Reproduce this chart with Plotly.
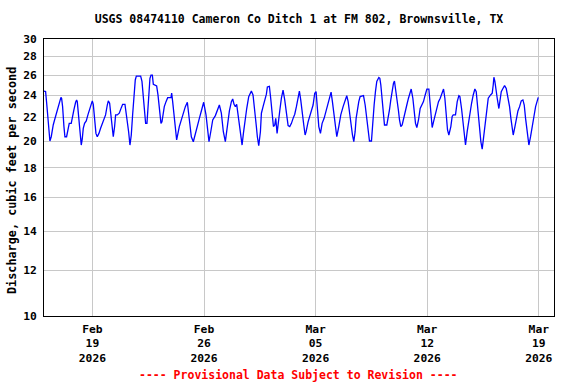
import pandas as pd
import plotly.graph_objects as go

title_text = "USGS 08474110 Cameron Co Ditch 1 at FM 802, Brownsville, TX"
y_title = "Discharge, cubic feet per second"
footer_text = "---- Provisional Data Subject to Revision ----"

start_time = "2026-02-16 00:00"
x_range = ["2026-02-15 23:06", "2026-03-19 22:54"]

# hours after start_time
hours = [
    -0.9, 1.5, 3.0, 5.0, 7.0, 8.0, 10.0, 11.5, 13.0, 15.0, 17.0, 19.0, 21.5, 23.0,
    24.6, 25.6, 27.1, 29.1, 30.6, 33.1, 35.1, 37.1, 40.1, 42.1, 44.1, 46.7,
    48.2, 49.2, 51.2, 53.2, 55.2, 56.7, 58.2, 60.2, 62.7, 65.2, 67.8, 69.8,
    71.8, 73.3, 75.3, 77.3, 79.3, 81.8, 84.3, 86.8, 89.3, 91.8, 94.4,
    95.9, 97.9, 99.9, 101.9, 103.4, 105.4, 106.9, 109.4, 112.4, 115.5, 117.5,
    121.0, 122.5, 124.5, 126.5, 128.5, 130.5, 132.5, 134.5, 136.5, 138.1,
    144.6, 146.6, 148.6, 150.6, 152.1, 154.1, 155.6, 156.6, 158.6, 160.2,
    162.2, 163.7, 168.7, 170.7, 173.7, 175.2, 176.7, 180.2, 182.8, 185.3,
    190.3, 191.3, 192.8, 195.3, 198.8, 202.8, 207.9, 211.9, 214.9, 217.9,
    220.9, 223.9, 228.0, 233.0, 237.0, 239.5, 243.0, 245.5, 247.5, 250.6,
    253.1, 257.1, 260.1, 263.1, 266.1, 269.1, 272.1, 275.7, 278.2, 281.2,
    283.2, 285.2, 287.2, 289.2, 292.2, 295.2, 297.3, 299.3, 301.8, 304.3,
    307.3, 310.3, 311.3, 313.8, 316.3, 318.8, 320.3, 322.4, 324.9, 326.4,
    328.9, 331.4, 333.9, 335.4, 338.4, 340.4, 342.4, 344.5, 346.5, 348.0,
    350.0, 351.5, 354.0, 356.5, 359.0, 361.5, 364.0, 366.6, 369.1, 371.6,
    374.1, 376.6, 379.1, 381.6, 383.6, 385.6, 387.7, 390.2, 392.2, 393.7,
    396.7, 399.2, 401.7, 404.2, 406.7, 408.7, 410.7, 412.8, 415.3, 417.8,
    420.8, 423.8, 426.8, 429.8, 431.3, 433.3, 435.9, 438.4, 439.9, 442.9,
    445.9, 449.4, 452.9, 454.9, 457.0, 459.5, 462.0, 463.5, 465.5, 467.5,
    469.0, 471.0, 473.0, 475.0, 480.1, 482.6, 485.1, 487.6, 489.1, 492.1,
    493.6, 496.1, 498.1, 500.1, 503.2, 504.7, 506.2, 508.2, 510.2, 511.7,
    515.2, 516.7, 519.2, 521.2, 523.2, 525.2, 526.7, 528.8, 530.8, 532.8,
    534.3, 536.3, 538.3, 540.3, 542.8, 545.3, 547.8, 550.4, 551.9, 554.4,
    556.4, 558.4, 560.4, 562.9, 565.4, 567.9, 570.4, 573.0, 575.5, 578.5,
    580.5, 582.0, 583.5, 585.5, 588.0, 590.5, 593.0, 595.6, 598.1, 600.6,
    602.6, 604.6, 606.6, 608.6, 611.6, 613.6, 615.2, 618.6, 621.2, 623.7,
    625.2, 627.7, 630.2, 632.2, 633.7, 636.2, 639.8, 642.8, 645.3, 647.8,
    649.8, 651.8, 654.8, 656.8, 658.8, 661.3, 663.9, 665.9, 667.9, 671.4,
    673.9, 675.4, 676.4, 677.9, 679.4, 681.4, 683.9, 685.4, 687.5, 690.0,
    692.5, 695.0, 697.5, 700.0, 702.0, 704.0, 705.5, 708.1, 710.1, 712.6,
    715.1, 717.6, 720.1, 722.1, 724.1, 726.6, 729.1, 731.6, 734.1, 736.7,
    739.2, 741.7, 743.2,
]

discharge = [
    24.4, 24.35, 23.34, 21.76, 20.18, 20.02, 20.36, 20.91, 21.33, 21.76, 22.2, 22.64, 23.09, 23.4,
    23.8, 23.72, 22.94, 21.2, 20.36, 20.36, 20.91, 21.47, 21.47, 22.2, 22.64, 23.34,
    23.56, 23.4, 22.2, 20.77, 19.7, 20.18, 21.05, 21.47, 21.68, 22.2, 22.77, 23.25,
    23.47, 23.15, 21.9, 20.63, 20.36, 20.63, 21.05, 21.47, 21.76, 22.2, 23.09,
    23.47, 23.25, 22.2, 20.77, 20.36, 21.2, 22.2, 22.2, 22.35, 22.85, 23.15,
    23.15, 22.5, 21.9, 20.77, 19.7, 20.5, 22.2, 24.03, 25.5, 25.9,
    25.9, 25.35, 23.56, 22.2, 21.47, 21.47, 22.9, 24.03, 25.67, 26.0,
    26.0, 25.07, 24.9, 24.03, 22.2, 21.47, 21.6, 22.94, 23.4, 23.77,
    23.77, 24.2, 23.4, 21.76, 20.1, 21.2, 22.2, 22.94, 23.34, 21.9,
    20.36, 19.96, 20.91, 21.9, 22.77, 23.34, 22.2, 20.77, 19.96, 20.91,
    21.76, 22.14, 22.64, 23.09, 22.35, 20.77, 19.96, 21.47, 22.55, 23.4,
    23.65, 23.15, 22.94, 23.15, 21.9, 20.5, 19.7, 20.63, 21.9, 22.77,
    23.87, 24.4, 24.4, 24.03, 22.77, 21.2, 20.36, 19.65, 20.77, 22.35,
    22.94, 23.56, 24.1, 24.8, 24.87, 23.72, 22.06, 21.2, 21.33, 21.9,
    20.63, 21.2, 22.55, 23.72, 24.5, 23.56, 22.2, 21.28, 21.2, 21.47,
    21.9, 22.26, 22.94, 23.72, 24.4, 23.56, 22.2, 21.33, 20.5, 20.77,
    21.6, 22.06, 22.55, 23.09, 24.2, 24.35, 22.77, 21.2, 20.63, 21.47,
    21.9, 22.64, 23.4, 24.03, 24.3, 23.4, 21.9, 21.05, 20.36, 21.2,
    22.2, 22.94, 23.72, 23.96, 23.4, 22.06, 21.05, 20.5, 19.96, 20.77,
    21.9, 22.77, 23.4, 23.87, 23.96, 23.09, 21.9, 20.77, 20.02, 20.02,
    21.33, 23.09, 24.35, 25.35, 25.75, 25.67, 25.0, 23.72, 22.2, 21.33,
    21.33, 21.76, 22.64, 23.56, 24.5, 25.16, 25.4, 24.5, 23.4, 22.55,
    21.76, 21.2, 21.33, 21.9, 22.55, 23.09, 23.72, 24.2, 24.6, 23.72,
    22.55, 21.47, 21.12, 21.76, 22.77, 23.09, 23.4, 24.03, 24.6, 24.6,
    23.4, 22.2, 21.12, 21.6, 22.2, 22.94, 23.4, 23.72, 24.2, 24.6,
    23.72, 22.2, 20.91, 20.5, 21.2, 22.06, 22.2, 22.2, 23.4, 23.96,
    23.87, 22.77, 21.47, 20.23, 19.7, 20.77, 22.2, 23.25, 24.03, 24.6,
    24.35, 22.77, 21.33, 19.96, 19.38, 20.5, 21.9, 22.77, 23.72, 24.03,
    24.2, 25.0, 25.78, 25.35, 24.5, 23.72, 22.77, 23.4, 24.35, 24.65,
    24.94, 24.65, 23.87, 22.94, 21.9, 21.05, 20.5, 21.2, 21.9, 22.55,
    22.94, 23.47, 23.56, 23.09, 21.9, 20.5, 19.7, 20.36, 21.33, 22.06,
    22.94, 23.56, 23.8,
]

x_tick_dates = ["2026-02-19", "2026-02-26", "2026-03-05", "2026-03-12", "2026-03-19"]
x_tick_text = ["Feb<br>19<br>2026", "Feb<br>26<br>2026", "Mar<br>05<br>2026",
               "Mar<br>12<br>2026", "Mar<br>19<br>2026"]
y_ticks = [10, 12, 14, 16, 18, 20, 22, 24, 26, 28, 30]

times = pd.Timestamp(start_time) + pd.to_timedelta(hours, unit="h")

FONT = "DejaVu Sans Mono"

fig = go.Figure()
fig.add_trace(go.Scatter(
    x=times, y=discharge, mode="lines",
    line=dict(color="#0000ff", width=1.3),
    showlegend=False, hoverinfo="skip",
))

fig.update_layout(
    width=576, height=384,
    margin=dict(l=44, r=22, t=39, b=68),
    paper_bgcolor="white", plot_bgcolor="white",
    font=dict(family=FONT, size=11.5, color="black", weight="bold"),
    title=dict(text=title_text, x=(44 + 554) / 2 / 576, xanchor="center",
               y=1 - 19 / 384, yanchor="middle",
               font=dict(family=FONT, size=11.5, color="black", weight="bold")),
    xaxis=dict(
        type="date", range=x_range,
        tickvals=x_tick_dates, ticktext=x_tick_text,
        showgrid=True, gridcolor="#c8c8c8", gridwidth=1,
        showline=True, linecolor="black", linewidth=1, mirror=True,
        ticks="outside", ticklen=2, tickcolor="white",
        tickfont=dict(family=FONT, size=11.3, color="black", weight="bold"),
        zeroline=False,
    ),
    yaxis=dict(
        type="log", range=[0.99999, 1.4771213],
        tickvals=y_ticks, ticktext=[str(v) for v in y_ticks],
        showgrid=True, gridcolor="#c8c8c8", gridwidth=1,
        showline=True, linecolor="black", linewidth=1, mirror=True,
        ticks="outside", ticklen=4, tickcolor="white",
        tickfont=dict(family=FONT, size=11.3, color="black", weight="bold"),
        zeroline=False,
    ),
    annotations=[
        dict(text=y_title, xref="paper", yref="paper",
             x=(12 - 44) / 510, y=(316 - 181) / 277, xanchor="center", yanchor="middle",
             textangle=-90, showarrow=False,
             font=dict(family=FONT, size=11.8, color="black", weight="bold")),
        dict(text=footer_text, xref="paper", yref="paper",
             x=(298 - 44) / 510, y=(316 - 375) / 277, xanchor="center", yanchor="middle",
             showarrow=False,
             font=dict(family=FONT, size=11.5, color="#ff0000", weight="bold")),
    ],
)

fig.write_html("out.html", config={"displayModeBar": False},
               post_script="document.body.style.margin='0px';")
